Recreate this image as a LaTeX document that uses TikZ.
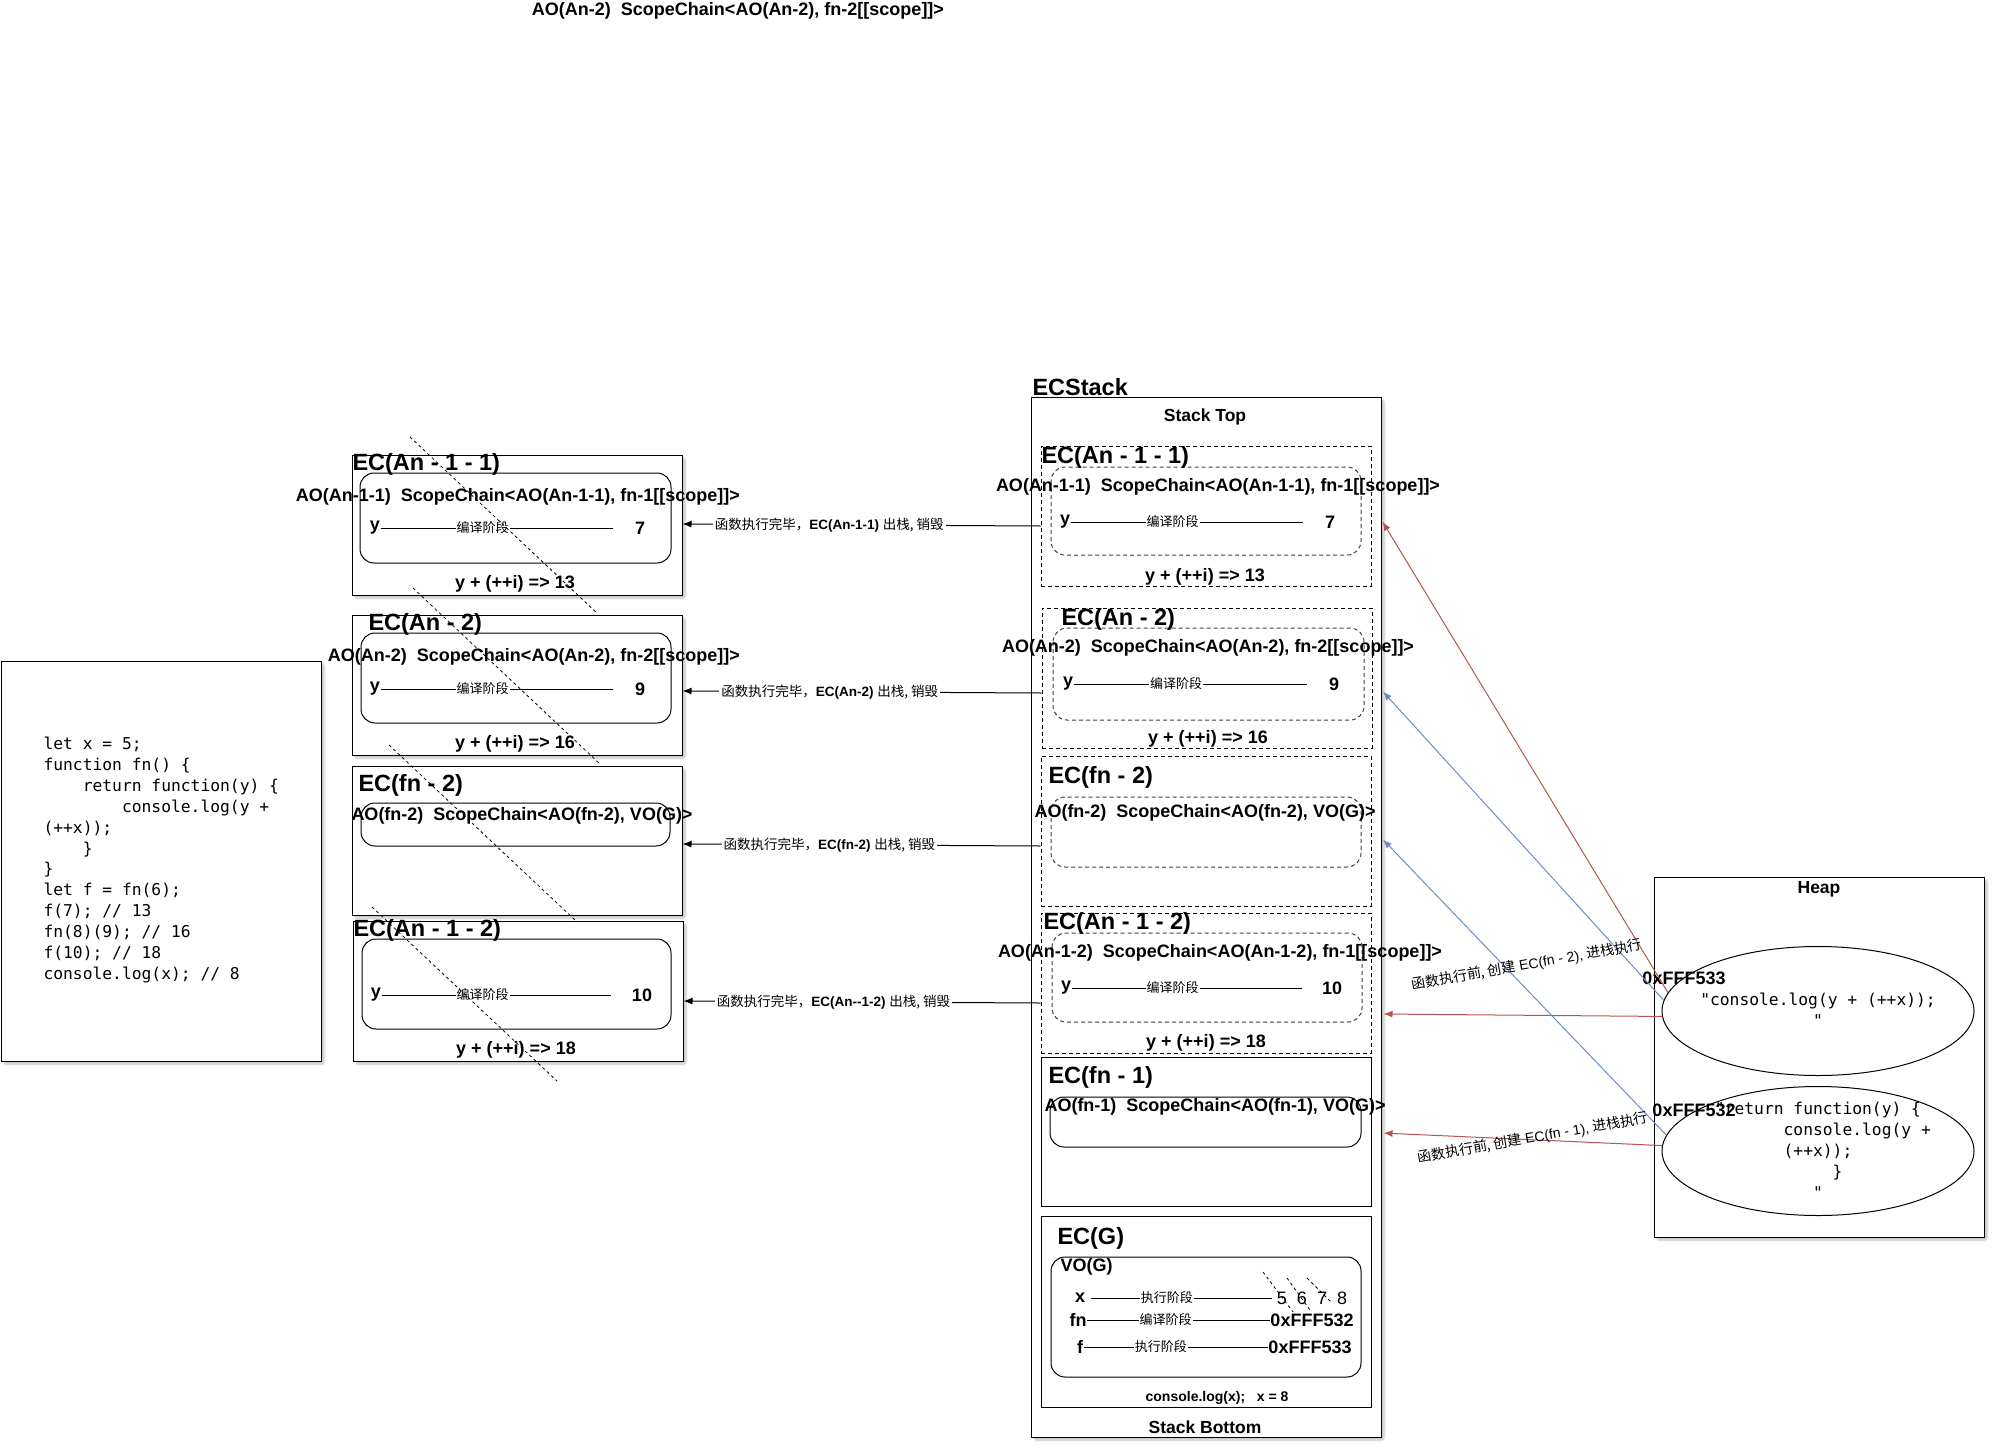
\documentclass[tikz,border=0pt]{standalone}
\usepackage{fontspec}
\setmainfont{Liberation Sans}
\newfontfamily\zhfont{Noto Sans CJK SC}
\newfontfamily\codefont{DejaVu Sans Mono}
\usetikzlibrary{shapes.geometric,arrows.meta,shadows.blur}
\definecolor{callred}{HTML}{B85450}
\definecolor{callblue}{HTML}{6C8EBF}

\begin{document}
\begin{tikzpicture}
    [
        x=1pt, y=-1pt, line width=1pt,
        box/.style={draw, rectangle, inner sep=0, fill=white,
            blur shadow={shadow blur steps=6, shadow xshift=3pt, shadow yshift=-3pt, shadow opacity=25, shadow blur extra rounding=2pt}},
        dbox/.style={draw, rectangle, inner sep=0, dash pattern=on 4pt off 3pt},
        inbox/.style={rounded corners=14pt},
        dinbox/.style={inbox, draw=black!75, dash pattern=on 4pt off 3pt},
        ttl/.style={anchor=west, inner sep=0, font=\bfseries\fontsize{23.5}{28}\selectfont},
        txt/.style={inner sep=0, font=\bfseries\fontsize{18}{22}\selectfont},
        big/.style={inner sep=0, font=\bfseries\fontsize{17.5}{21}\selectfont},
        phase/.style={fill=white, inner sep=1pt, font=\zhfont\fontsize{13}{15}\selectfont},
        outlbl/.style={fill=white, inner sep=2pt, font=\fontsize{13.5}{16}\selectfont},
        rot/.style={inner sep=0, font=\fontsize{14}{17}\selectfont},
        code/.style={inner sep=0, align=left, font=\codefont\fontsize{16.3}{20.9}\selectfont},
        crossout/.style={line width=0.8pt, dash pattern=on 3pt off 3pt},
        arr/.style={-{Latex[length=9pt,width=7pt]}},
    ]
    \useasboundingbox (0,0) rectangle (1992,1448);

    \node[txt] (note) at (738,11) {AO(An-2)\ \ ScopeChain<AO(An-2), fn-2[[scope]]>};

    % source code
    \node[box, minimum width=320, minimum height=400] (codebox) at (161,861) {};
    \node[code, anchor=west] (code) at (43,860) {let x = 5;\\ function fn() \{\\ \hphantom{xxxx}return function(y) \{\\ \hphantom{xxxxxxxx}console.log(y +\\ (++x));\\ \hphantom{xxxx}\}\\ \}\\ let f = fn(6);\\ f(7); // 13\\ fn(8)(9); // 16\\ f(10); // 18\\ console.log(x); // 8};

    % destroyed contexts
    \node[box, minimum width=330, minimum height=140] (l1) at (517,525) {};
    \draw[inbox] (360,473) rectangle (671,563);
    \node[ttl] (l1t) at (352,464) {EC(An - 1 - 1)};
    \node[txt] (l1s) at (518,497) {AO(An-1-1)\ \ ScopeChain<AO(An-1-1), fn-1[[scope]]>};
    \node[txt] (l1y) at (375,528) {y};
    \node[txt] (l1v) at (640,528) {7};
    \draw (l1y.east) -- node[phase, pos=0.44] {编译阶段} ([xshift=-22pt]l1v.west);
    \node[txt] (l1r) at (515,584) {y + (++i) => 13};

    \node[box, minimum width=330, minimum height=140] (l2) at (517,685) {};
    \draw[inbox] (361,633) rectangle (671,723);
    \node[ttl] (l2t) at (368,624) {EC(An - 2)};
    \node[txt] (l2s) at (534,657) {AO(An-2)\ \ ScopeChain<AO(An-2), fn-2[[scope]]>};
    \node[txt] (l2y) at (375,689) {y};
    \node[txt] (l2v) at (640,689) {9};
    \draw (l2y.east) -- node[phase, pos=0.44] {编译阶段} ([xshift=-22pt]l2v.west);
    \node[txt] (l2r) at (515,744) {y + (++i) => 16};

    \node[box, minimum width=330, minimum height=149] (l3) at (517,840.5) {};
    \draw[inbox] (361,803) rectangle (670,846);
    \node[ttl] (l3t) at (358,785) {EC(fn - 2)};
    \node[txt] (l3s) at (522,816) {AO(fn-2)\ \ ScopeChain<AO(fn-2), VO(G)>};

    \node[box, minimum width=330, minimum height=140] (l4) at (518,991) {};
    \draw[inbox] (362,939) rectangle (671,1029);
    \node[ttl] (l4t) at (353,930) {EC(An - 1 - 2)};
    \node[txt] (l4y) at (376,995) {y};
    \node[txt] (l4v) at (642,995) {10};
    \draw (l4y.east) -- node[phase, pos=0.44] {编译阶段} ([xshift=-20pt]l4v.west);
    \node[txt] (l4r) at (516,1050) {y + (++i) => 18};

    % ECStack
    \node[box, minimum width=350, minimum height=1040] (stack) at (1206,917) {};
    \node[ttl] (stackt) at (1032,387) {ECStack};
    \node[big] (top) at (1205,417) {Stack Top};
    \node[big] (bottom) at (1205,1427) {Stack Bottom};

    \node[dbox, minimum width=330, minimum height=140] (s1) at (1206,516) {};
    \draw[dinbox] (1051,467) rectangle (1361,555);
    \node[ttl] (s1t) at (1041,457) {EC(An - 1 - 1)};
    \node[txt] (s1s) at (1218,487) {AO(An-1-1)\ \ ScopeChain<AO(An-1-1), fn-1[[scope]]>};
    \node[txt] (s1y) at (1065,522) {y};
    \node[txt] (s1v) at (1330,522) {7};
    \draw (s1y.east) -- node[phase, pos=0.44] {编译阶段} ([xshift=-22pt]s1v.west);
    \node[txt] (s1r) at (1205,577) {y + (++i) => 13};

    \node[dbox, minimum width=330, minimum height=140] (s2) at (1207,678) {};
    \draw[dinbox] (1053,628) rectangle (1364,720);
    \node[ttl] (s2t) at (1061,619) {EC(An - 2)};
    \node[txt] (s2s) at (1208,648) {AO(An-2)\ \ ScopeChain<AO(An-2), fn-2[[scope]]>};
    \node[txt] (s2y) at (1068,684) {y};
    \node[txt] (s2v) at (1334,684) {9};
    \draw (s2y.east) -- node[phase, pos=0.44] {编译阶段} ([xshift=-22pt]s2v.west);
    \node[txt] (s2r) at (1208,739) {y + (++i) => 16};

    \node[dbox, minimum width=330, minimum height=150] (s3) at (1206,831) {};
    \draw[dinbox] (1051,797) rectangle (1361,867);
    \node[ttl] (s3t) at (1048,777) {EC(fn - 2)};
    \node[txt] (s3s) at (1205,813) {AO(fn-2)\ \ ScopeChain<AO(fn-2), VO(G)>};

    \node[dbox, minimum width=330, minimum height=140] (s4) at (1206,983) {};
    \draw[dinbox] (1052,933) rectangle (1362,1022);
    \node[ttl] (s4t) at (1043,923) {EC(An - 1 - 2)};
    \node[txt] (s4s) at (1220,953) {AO(An-1-2)\ \ ScopeChain<AO(An-1-2), fn-1[[scope]]>};
    \node[txt] (s4y) at (1066,988) {y};
    \node[txt] (s4v) at (1332,988) {10};
    \draw (s4y.east) -- node[phase, pos=0.44] {编译阶段} ([xshift=-20pt]s4v.west);
    \node[txt] (s4r) at (1206,1043) {y + (++i) => 18};

    \node[draw, inner sep=0, minimum width=330, minimum height=149] (s5) at (1206,1131.5) {};
    \draw[inbox] (1050,1097) rectangle (1361,1147);
    \node[ttl] (s5t) at (1048,1077) {EC(fn - 1)};
    \node[txt] (s5s) at (1215,1107) {AO(fn-1)\ \ ScopeChain<AO(fn-1), VO(G)>};

    \node[draw, inner sep=0, minimum width=330, minimum height=191] (s6) at (1206,1311.5) {};
    \draw[inbox] (1051,1257) rectangle (1361,1377);
    \node[ttl] (s6t) at (1057,1238) {EC(G)};
    \node[txt, anchor=west] (vo) at (1060,1267) {VO(G)};
    \node[txt] (gx) at (1080,1298) {x};
    \node[txt] (gfn) at (1078,1320) {fn};
    \node[txt] (gf) at (1080,1347) {f};
    \node[txt, font=\fontsize{18}{22}\selectfont] (gxv) at (1312,1298) {5\ \ 6\ \ 7\ \ 8};
    \node[txt] (gfnv) at (1312,1320) {0xFFF532};
    \node[txt] (gfv) at (1310,1347) {0xFFF533};
    \draw ([xshift=5pt]gx.east) -- node[phase, pos=0.42] {执行阶段} ([xshift=-4pt]gxv.west);
    \draw (gfn.east) -- node[phase, pos=0.43] {编译阶段} (gfnv.west);
    \draw (gf.east) -- node[phase, pos=0.42] {执行阶段} (gfv.west);
    \draw[crossout] (1263,1272) -- (1293,1312);
    \draw[crossout] (1287,1278) -- (1310,1310);
    \draw[crossout] (1307,1278) -- (1332,1303);
    \node[inner sep=0, font=\bfseries\fontsize{14}{17}\selectfont] (glog) at (1217,1398) {console.log(x);\ \ \ x = 8};

    % heap
    \node[box, minimum width=330, minimum height=360] (heap) at (1819,1057) {};
    \node[big] (heapt) at (1819,889) {Heap};
    \node[draw, ellipse, minimum width=312, minimum height=129, inner sep=0] (e1) at (1818,1011) {};
    \node[code, align=center] (e1c) at (1818,1010) {"console.log(y + (++x));\\"};
    \node[draw, ellipse, minimum width=312, minimum height=129, inner sep=0] (e2) at (1818,1151) {};
    \node[code, align=center] (e2c) at (1818,1150) {"return function(y) \{\\ \hphantom{xxxxxxxx}console.log(y +\\ (++x));\\ \hphantom{xxxx}\}\\ "};
    \node[txt] (a533) at (1684,978) {0xFFF533};
    \node[txt] (a532) at (1694,1110) {0xFFF532};

    % pop arrows
    \draw[arr] (s1.west |- 0,526) -- node[outlbl, pos=0.59] {{\zhfont 函数执行完毕，}\textbf{EC(An-1-1)} {\zhfont 出栈, 销毁}} (l1.east |- 0,524);
    \draw[arr] (s2.west |- 0,693) -- node[outlbl, pos=0.59] {{\zhfont 函数执行完毕，}\textbf{EC(An-2)} {\zhfont 出栈, 销毁}} (l2.east |- 0,691);
    \draw[arr] (s3.west |- 0,846) -- node[outlbl, pos=0.59] {{\zhfont 函数执行完毕，}\textbf{EC(fn-2)} {\zhfont 出栈, 销毁}} (l3.east |- 0,844);
    \draw[arr] (s4.west |- 0,1003) -- node[outlbl, pos=0.58] {{\zhfont 函数执行完毕，}\textbf{EC(An-{}-1-2)} {\zhfont 出栈, 销毁}} (l4.east |- 0,1001);

    % push arrows
    \draw[arr, callred, shorten >=2pt] (e1.173) -- (stack.east |- 0,520);
    \draw[arr, callred, shorten >=2pt] (e1.182) -- (stack.east |- 0,1014);
    \draw[arr, callred, shorten >=2pt] (e2.178) -- (stack.east |- 0,1133);
    \draw[arr, callblue, shorten >=2pt] (e1.176) -- (stack.east |- 0,690);
    \draw[arr, callblue, shorten >=2pt] (e2.174) -- (stack.east |- 0,838);
    \node[rot, rotate=10] (push2) at (1527,965) {{\zhfont 函数执行前, 创建} EC(fn - 2), {\zhfont 进栈执行}};
    \node[rot, rotate=10] (push1) at (1533,1138) {{\zhfont 函数执行前, 创建} EC(fn - 1), {\zhfont 进栈执行}};

    % crossed out
    \draw[crossout] (410,437) -- (598,614);
    \draw[crossout] (413,588) -- (600,764);
    \draw[crossout] (389,745) -- (575,920);
    \draw[crossout] (372,907) -- (557,1081);

\end{tikzpicture}
\end{document}
